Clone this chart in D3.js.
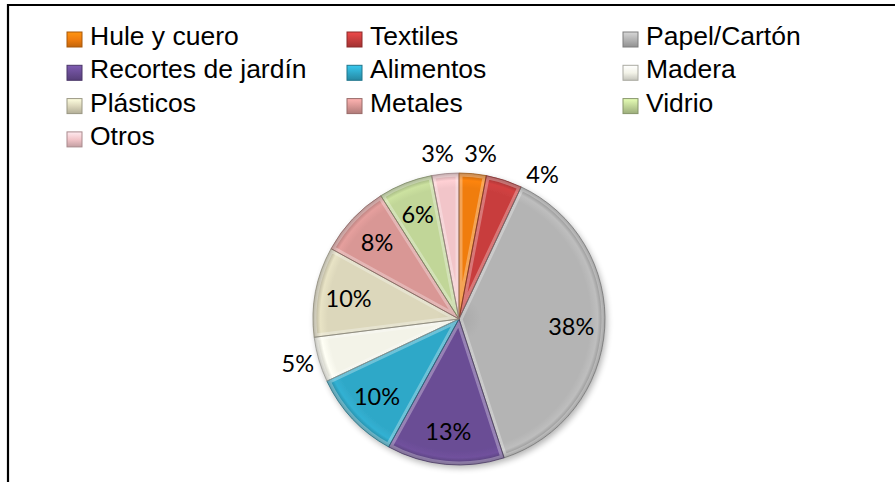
<!DOCTYPE html>
<html>
<head>
<meta charset="utf-8">
<script src="https://cdn.jsdelivr.net/npm/d3@7"></script>
<style>
  html, body { margin: 0; padding: 0; background: #fff; }
  svg { display: block; }
</style>
</head>
<body>
<svg id="chart" width="895" height="482"></svg>
<script>
// Composición de residuos (%)
const categories = ["Hule y cuero", "Textiles", "Papel/Cartón", "Recortes de jardín", "Alimentos",
                    "Madera", "Plásticos", "Metales", "Vidrio", "Otros"];
const values = [3, 4, 38, 13, 10, 5, 10, 8, 6, 3];
const colors = ["#F07D0E", "#C83E3E", "#B4B4B4", "#6A4D95", "#2FA8C8",
                "#F3F3E8", "#DCD7BB", "#D99795", "#C1D698", "#F2C5C9"];
// Slices whose label sits outside the pie
const outsideLabels = ["Hule y cuero", "Textiles", "Madera", "Otros"];
// Angular nudge (degrees) for outside labels that would crowd each other
const labelNudge = { "Hule y cuero": 2, "Textiles": 12, "Madera": 1, "Otros": -2 };

const svg = d3.select("#chart");
const W = 895, H = 482;
const cx = 459, cy = 319, R = 146;

// Frame
svg.append("path")
  .attr("d", `M8,${H} V5 H${W}`)
  .attr("fill", "none")
  .attr("stroke", "#000")
  .attr("stroke-width", 2.2);

const defs = svg.append("defs");

// Soft shadow under the pie
const shadow = defs.append("filter").attr("id", "shadow")
  .attr("x", "-20%").attr("y", "-20%").attr("width", "140%").attr("height", "140%");
shadow.append("feGaussianBlur").attr("in", "SourceAlpha").attr("stdDeviation", 3).attr("result", "b");
shadow.append("feOffset").attr("in", "b").attr("dx", 2).attr("dy", 3).attr("result", "o");
shadow.append("feComponentTransfer").attr("in", "o").attr("result", "s")
  .append("feFuncA").attr("type", "linear").attr("slope", 0.3);
const m = shadow.append("feMerge");
m.append("feMergeNode").attr("in", "s");
m.append("feMergeNode").attr("in", "SourceGraphic");

// Radial shading per slice (gradient space = pie group space, centred on 0,0)
colors.forEach((c, i) => {
  const g = defs.append("radialGradient").attr("id", "grad" + i)
    .attr("gradientUnits", "userSpaceOnUse")
    .attr("cx", 0).attr("cy", 0).attr("r", R);
  const base = d3.color(c);
  g.append("stop").attr("offset", "0%").attr("stop-color", base.darker(0.2));
  g.append("stop").attr("offset", "15%").attr("stop-color", base);
  g.append("stop").attr("offset", "90%").attr("stop-color", base);
  g.append("stop").attr("offset", "95%").attr("stop-color", base.brighter(0.15));
  g.append("stop").attr("offset", "98%").attr("stop-color", base.darker(0.4));
  g.append("stop").attr("offset", "100%").attr("stop-color", base.darker(1.0));
});

const pie = d3.pie().value(d => d).sort(null);
const arcs = pie(values);
const arc = d3.arc().innerRadius(0).outerRadius(R);

// Clip paths (in pie group space) keep the bevel highlight inside each slice
arcs.forEach((a, i) => {
  defs.append("clipPath").attr("id", "clip" + i)
    .append("path").attr("d", arc(a));
});

const gPie = svg.append("g").attr("transform", `translate(${cx},${cy})`);
const body = gPie.append("g").attr("filter", "url(#shadow)");

body.selectAll("path.slice").data(arcs).join("path")
  .attr("class", "slice")
  .attr("d", arc)
  .attr("fill", (d, i) => `url(#grad${i})`);

// Bevel: light inner edge plus a darker outline
const bevel = gPie.append("g");
bevel.selectAll("path.hi").data(arcs).join("path")
  .attr("class", "hi")
  .attr("d", arc)
  .attr("fill", "none")
  .attr("stroke", "#fff")
  .attr("stroke-opacity", 0.3)
  .attr("stroke-width", 7)
  .attr("clip-path", (d, i) => `url(#clip${i})`);
bevel.selectAll("path.edge").data(arcs).join("path")
  .attr("class", "edge")
  .attr("d", arc)
  .attr("fill", "none")
  .attr("stroke", (d, i) => d3.color(colors[i]).darker(1.4))
  .attr("stroke-opacity", 0.7)
  .attr("stroke-width", 1);

// Data labels
const insideArc = d3.arc().innerRadius(R * 0.77).outerRadius(R * 0.77);
const lab = svg.append("g")
  .attr("font-family", "Lato, 'Open Sans', sans-serif")
  .attr("font-size", 23.5)
  .attr("fill", "#000");
arcs.forEach((a, i) => {
  const name = categories[i];
  let x, y;
  if (outsideLabels.includes(name)) {
    const ang = (a.startAngle + a.endAngle) / 2 + (labelNudge[name] || 0) * Math.PI / 180;
    const r = R + 21;
    x = cx + r * Math.sin(ang);
    y = cy - r * Math.cos(ang);
  } else {
    const c = insideArc.centroid(a);
    x = cx + c[0];
    y = cy + c[1];
  }
  lab.append("text")
    .attr("x", x).attr("y", y)
    .attr("text-anchor", "middle")
    .attr("dominant-baseline", "central")
    .text(values[i] + "%");
});

// Legend: three columns, filled row by row
const legendCols = [67, 347, 623];
const legendRow0 = 45, legendRowStep = 33.3;
const leg = svg.append("g")
  .attr("font-family", "'Liberation Sans', Arial, sans-serif")
  .attr("font-size", 26.5);
categories.forEach((name, i) => {
  const col = i % 3, row = Math.floor(i / 3);
  const x = legendCols[col], base = legendRow0 + row * legendRowStep;
  const c = d3.color(colors[i]);
  const s = 15, top = base - 13;
  const gi = defs.append("linearGradient").attr("id", "lg" + i)
    .attr("x1", 0).attr("y1", 0).attr("x2", 0).attr("y2", 1);
  gi.append("stop").attr("offset", "0%").attr("stop-color", c.brighter(0.5));
  gi.append("stop").attr("offset", "50%").attr("stop-color", c);
  gi.append("stop").attr("offset", "100%").attr("stop-color", c.darker(0.6));
  leg.append("rect").attr("x", x).attr("y", top).attr("width", s).attr("height", s)
    .attr("fill", `url(#lg${i})`).attr("stroke", c.darker(1)).attr("stroke-width", 1);
  leg.append("text").attr("x", x + 23).attr("y", base).attr("fill", "#000").text(name);
});
</script>
</body>
</html>
